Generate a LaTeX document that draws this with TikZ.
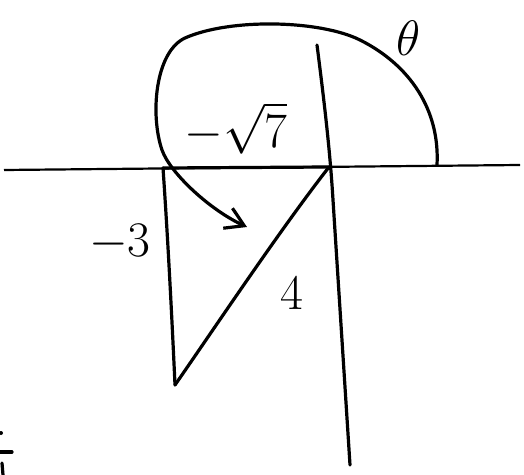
\documentclass[tikz,border=0pt]{standalone}
\usepackage{amsmath}
\usepackage{tikz}
\usetikzlibrary{arrows.meta}

\tikzset{pen/.style={line width=1.6pt, line cap=round, line join=round},
  lbl/.style={font=\fontsize{24}{28}\selectfont}}

\begin{document}
\begin{tikzpicture}[x=0.5pt,y=-0.5pt]
  \useasboundingbox (0,0) rectangle (524,475);
  % axes
  \draw[line width=1.1pt] (4,170) -- (520,165);
  \draw[pen] (317,45) .. controls (324,100) and (330,150) .. (333,200) -- (350,465);
  % triangle
  \coordinate (A) at (163,168);
  \coordinate (B) at (329,167);
  \coordinate (C) at (175,385);
  \draw[pen] (A) -- (B);
  \draw[pen] (A) .. controls (168,240) and (172,320) .. (C);
  \draw[pen] (C) .. controls (220,320) and (280,230) .. (B);
  % angle
  \draw[pen, -{Straight Barb[length=9pt,width=11pt]}] (437,165)
    .. controls (440,110) and (410,65) .. (360,40)
    .. controls (320,20) and (230,18) .. (185,38)
    .. controls (155,52) and (150,115) .. (162,150)
    .. controls (170,173) and (210,210) .. (247,227);
  \node[lbl] (r) at (236,128) {$-\sqrt{7}$};
  \node[lbl] (y) at (120,243) {$-3$};
  \node[lbl] (h) at (292,293) {$4$};
  \node[lbl] (t) at (409,38) {$\theta$};
  % cut-off marks
  \fill (1,433) circle (2);
  \draw[pen] (0,452) -- (12,452);
  \draw[pen] (2,463) -- (3,475);
\end{tikzpicture}
\end{document}
